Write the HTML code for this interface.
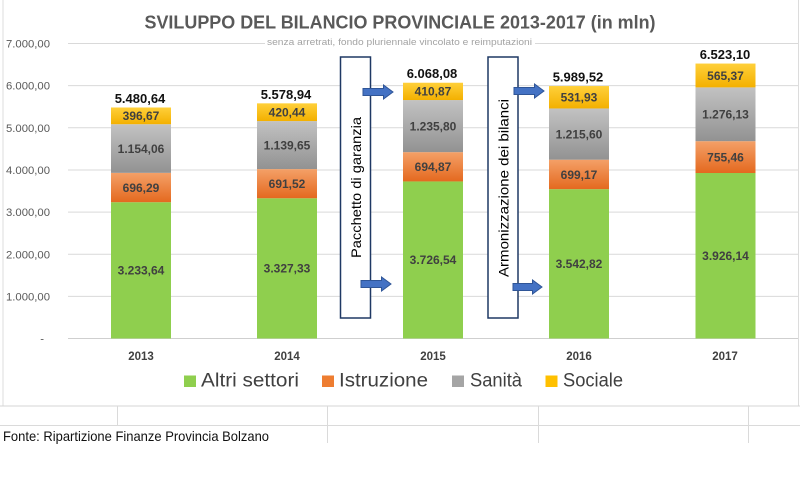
<!DOCTYPE html>
<html><head><meta charset="utf-8"><style>
html,body{margin:0;padding:0;background:#fff;}
svg{display:block;}
text{font-family:"Liberation Sans",sans-serif;}
</style></head><body>
<svg width="800" height="486" viewBox="0 0 800 486" xmlns="http://www.w3.org/2000/svg">
<defs>
<linearGradient id="gO" x1="0" y1="0" x2="0" y2="1"><stop offset="0" stop-color="#F4A067"/><stop offset="1" stop-color="#E4691F"/></linearGradient>
<linearGradient id="gS" x1="0" y1="0" x2="0" y2="1"><stop offset="0" stop-color="#C2C2C2"/><stop offset="1" stop-color="#929292"/></linearGradient>
<linearGradient id="gY" x1="0" y1="0" x2="0" y2="1"><stop offset="0" stop-color="#FFD03A"/><stop offset="1" stop-color="#F3B000"/></linearGradient>
</defs>
<rect width="800" height="486" fill="#fff"/>
<!-- chart border -->
<line x1="3" y1="0" x2="3" y2="406" stroke="#dcdcdc" stroke-width="1"/>
<line x1="798.5" y1="0" x2="798.5" y2="406" stroke="#dcdcdc" stroke-width="1"/>
<line x1="0" y1="406" x2="800" y2="406" stroke="#d4d4d4" stroke-width="1"/>
<!-- spreadsheet grid -->
<line x1="0" y1="425.5" x2="800" y2="425.5" stroke="#dadada" stroke-width="1"/>
<line x1="117.5" y1="406" x2="117.5" y2="425.5" stroke="#dadada" stroke-width="1"/>
<line x1="327.5" y1="406" x2="327.5" y2="443" stroke="#dadada" stroke-width="1"/>
<line x1="538.5" y1="406" x2="538.5" y2="443" stroke="#dadada" stroke-width="1"/>
<line x1="748.5" y1="406" x2="748.5" y2="443" stroke="#dadada" stroke-width="1"/>
<text x="3" y="441" font-size="14" fill="#111" textLength="266" lengthAdjust="spacingAndGlyphs">Fonte: Ripartizione Finanze Provincia Bolzano</text>

<!-- gridlines -->
<g stroke="#d9d9d9" stroke-width="1">
<line x1="68" y1="43.5" x2="798" y2="43.5"/>
<line x1="68" y1="85.6" x2="798" y2="85.6"/>
<line x1="68" y1="127.8" x2="798" y2="127.8"/>
<line x1="68" y1="170" x2="798" y2="170"/>
<line x1="68" y1="212.1" x2="798" y2="212.1"/>
<line x1="68" y1="254.3" x2="798" y2="254.3"/>
<line x1="68" y1="296.4" x2="798" y2="296.4"/>
</g>
<line x1="68" y1="338.5" x2="798" y2="338.5" stroke="#cfcfcf" stroke-width="1"/>

<!-- y labels -->
<g font-size="11.3" fill="#595959" text-anchor="end">
<text x="50" y="47.5">7.000,00</text>
<text x="50" y="89.6">6.000,00</text>
<text x="50" y="131.8">5.000,00</text>
<text x="50" y="174">4.000,00</text>
<text x="50" y="216.1">3.000,00</text>
<text x="50" y="258.3">2.000,00</text>
<text x="50" y="300.4">1.000,00</text>
<text x="44" y="342.5">-</text>
</g>

<!-- title -->
<text x="400" y="28.5" font-size="18.5" font-weight="bold" fill="#595959" text-anchor="middle" textLength="511" lengthAdjust="spacingAndGlyphs">SVILUPPO DEL BILANCIO PROVINCIALE 2013-2017 (in mln)</text>
<rect x="265" y="36" width="270" height="11" fill="#fff"/>
<text x="267" y="45" font-size="9.5" fill="#a3a3a3" textLength="265" lengthAdjust="spacingAndGlyphs">senza arretrati, fondo pluriennale vincolato e reimputazioni</text>

<!-- bars -->
<!-- 2013 -->
<rect x="111" y="202.2" width="60" height="136.3" fill="#8FCF4E"/>
<rect x="111" y="172.85" width="60" height="29.35" fill="url(#gO)"/>
<rect x="111" y="124.21" width="60" height="48.64" fill="url(#gS)"/>
<rect x="111" y="107.49" width="60" height="16.72" fill="url(#gY)"/>
<!-- 2014 -->
<rect x="257" y="198.25" width="60" height="140.25" fill="#8FCF4E"/>
<rect x="257" y="169.1" width="60" height="29.15" fill="url(#gO)"/>
<rect x="257" y="121.06" width="60" height="48.04" fill="url(#gS)"/>
<rect x="257" y="103.34" width="60" height="17.72" fill="url(#gY)"/>
<!-- 2015 -->
<rect x="403" y="181.43" width="60" height="157.07" fill="#8FCF4E"/>
<rect x="403" y="152.14" width="60" height="29.29" fill="url(#gO)"/>
<rect x="403" y="100.05" width="60" height="52.09" fill="url(#gS)"/>
<rect x="403" y="82.73" width="60" height="17.32" fill="url(#gY)"/>
<!-- 2016 -->
<rect x="549" y="189.17" width="60" height="149.33" fill="#8FCF4E"/>
<rect x="549" y="159.7" width="60" height="29.47" fill="url(#gO)"/>
<rect x="549" y="108.46" width="60" height="51.24" fill="url(#gS)"/>
<rect x="549" y="86.04" width="60" height="22.42" fill="url(#gY)"/>
<!-- 2017 -->
<rect x="695.5" y="173.01" width="60" height="165.49" fill="#8FCF4E"/>
<rect x="695.5" y="141.17" width="60" height="31.84" fill="url(#gO)"/>
<rect x="695.5" y="87.38" width="60" height="53.79" fill="url(#gS)"/>
<rect x="695.5" y="63.55" width="60" height="23.83" fill="url(#gY)"/>

<!-- segment labels -->
<g font-size="12" font-weight="bold" fill="#404040" text-anchor="middle">
<text x="141" y="274.5">3.233,64</text>
<text x="141" y="191.8">696,29</text>
<text x="141" y="152.8">1.154,06</text>
<text x="141" y="120.1">396,67</text>

<text x="287" y="272.6">3.327,33</text>
<text x="287" y="188">691,52</text>
<text x="287" y="149.4">1.139,65</text>
<text x="287" y="116.5">420,44</text>

<text x="433" y="264.2">3.726,54</text>
<text x="433" y="171.1">694,87</text>
<text x="433" y="130.4">1.235,80</text>
<text x="433" y="95.7">410,87</text>

<text x="579" y="268.1">3.542,82</text>
<text x="579" y="178.8">699,17</text>
<text x="579" y="138.4">1.215,60</text>
<text x="579" y="101.6">531,93</text>

<text x="725.5" y="260">3.926,14</text>
<text x="725.5" y="161.4">755,46</text>
<text x="725.5" y="118.6">1.276,13</text>
<text x="725.5" y="79.8">565,37</text>
</g>

<!-- totals -->
<g font-size="13" font-weight="bold" fill="#111" text-anchor="middle">
<text x="140" y="103">5.480,64</text>
<text x="286" y="98.8">5.578,94</text>
<text x="432" y="78.2">6.068,08</text>
<text x="578" y="81.5">5.989,52</text>
<text x="725" y="59">6.523,10</text>
</g>

<!-- category labels -->
<g font-size="11.5" font-weight="bold" fill="#404040" text-anchor="middle">
<text x="141" y="360">2013</text>
<text x="287" y="360">2014</text>
<text x="433" y="360">2015</text>
<text x="579" y="360">2016</text>
<text x="725" y="360">2017</text>
</g>

<!-- annotation boxes -->
<rect x="340.5" y="57" width="30" height="261" fill="#fff" stroke="#1F3864" stroke-width="1.5"/>
<text transform="translate(361,187.5) rotate(-90)" font-size="14" fill="#000" text-anchor="middle" textLength="141" lengthAdjust="spacingAndGlyphs">Pacchetto di garanzia</text>
<rect x="488" y="57" width="30" height="261" fill="#fff" stroke="#1F3864" stroke-width="1.5"/>
<text transform="translate(508.5,188) rotate(-90)" font-size="14" fill="#000" text-anchor="middle" textLength="178" lengthAdjust="spacingAndGlyphs">Armonizzazione dei bilanci</text>

<!-- arrows -->
<g fill="#4472C4" stroke="#2F5597" stroke-width="1">
<path d="M363,88.5 H383.5 V85 L393,92 L383.5,99 V95.5 H363 Z"/>
<path d="M361,280.5 H381.5 V277 L391,284 L381.5,291 V287.5 H361 Z"/>
<path d="M514,87.5 H534.5 V84 L544,91 L534.5,98 V94.5 H514 Z"/>
<path d="M513,283.5 H532.5 V280 L542,287 L532.5,294 V290.5 H513 Z"/>
</g>

<!-- legend -->
<rect x="184" y="375.5" width="12" height="11.5" fill="#8FCF4E"/>
<text x="201" y="386.7" font-size="19" fill="#404040" textLength="98" lengthAdjust="spacingAndGlyphs">Altri settori</text>
<rect x="322" y="375.5" width="12" height="11.5" fill="#EE7D31"/>
<text x="339" y="386.7" font-size="19" fill="#404040" textLength="89" lengthAdjust="spacingAndGlyphs">Istruzione</text>
<rect x="452" y="375.5" width="12" height="11.5" fill="#A5A5A5"/>
<text x="470" y="386.7" font-size="19" fill="#404040" textLength="52" lengthAdjust="spacingAndGlyphs">Sanità</text>
<rect x="545.5" y="375.5" width="12" height="11.5" fill="#FFC000"/>
<text x="563" y="386.7" font-size="19" fill="#404040" textLength="60" lengthAdjust="spacingAndGlyphs">Sociale</text>
</svg>
</body></html>
